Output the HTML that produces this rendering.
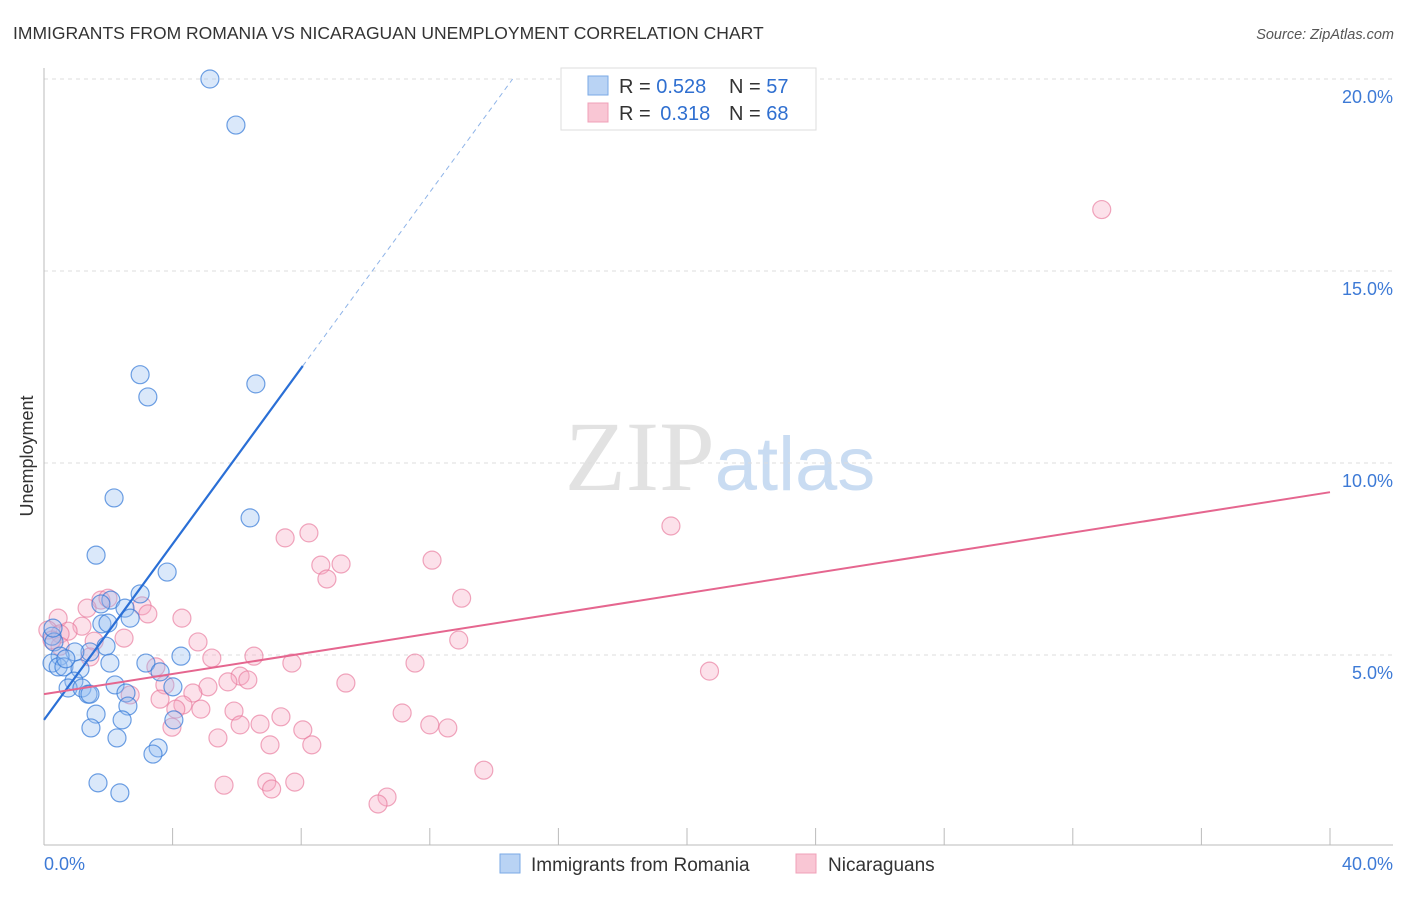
<!DOCTYPE html>
<html><head><meta charset="utf-8"><style>
body{margin:0;background:#fff;font-family:"Liberation Sans",sans-serif;}
svg text{font-family:"Liberation Sans",sans-serif;}
</style></head><body>
<svg id="chart" width="1406" height="892" xmlns="http://www.w3.org/2000/svg">
<text x="13" y="39" font-size="17.5" fill="#333">IMMIGRANTS FROM ROMANIA VS NICARAGUAN UNEMPLOYMENT CORRELATION CHART</text>
<text x="1394" y="39" font-size="14.5" fill="#555" text-anchor="end" font-style="italic">Source: ZipAtlas.com</text>
<text x="720" y="490" font-size="100" text-anchor="middle" fill="#e2e2e2"><tspan font-family="Liberation Serif">ZIP</tspan><tspan fill="#c9dcf2" font-size="76">atlas</tspan></text>
<g id="grid"></g>
<g id="axes"></g>
<g id="marks"></g>
<text transform="translate(33,456) rotate(-90)" font-size="18" fill="#333" text-anchor="middle">Unemployment</text>
<g>
<rect x="561" y="68" width="255" height="62" fill="#fff" stroke="#ddd"/>
<rect x="588" y="76" width="20" height="19" fill="#b9d3f4" stroke="#7aa9e6"/>
<rect x="588" y="103" width="20" height="19" fill="#f9c6d4" stroke="#f0a0b8"/>
<text x="619" y="93" font-size="20" fill="#333">R = <tspan fill="#2f6fd0">0.528</tspan></text>
<text x="729" y="93" font-size="20" fill="#333">N = <tspan fill="#2f6fd0">57</tspan></text>
<text x="619" y="120" font-size="20" fill="#333">R = <tspan fill="#2f6fd0" dx="4">0.318</tspan></text>
<text x="729" y="120" font-size="20" fill="#333">N = <tspan fill="#2f6fd0">68</tspan></text>
</g>
<g>
<rect x="500" y="854" width="20" height="19" fill="#b9d3f4" stroke="#7aa9e6"/>
<text x="531" y="871" font-size="19" fill="#333">Immigrants from Romania</text></g>
<g>
<rect x="796" y="854" width="20" height="19" fill="#f9c6d4" stroke="#f0a0b8"/>
<text x="828" y="871" font-size="19" fill="#333">Nicaraguans</text></g>
</svg>
<script>
const yTicks=[5,10,15,20];
const yTickLabels=["5.0%","10.0%","15.0%","20.0%"];
const blueX=[5.16,5.97,2.99,6.59,3.23,2.18,6.41,1.62,3.83,2.99,2.08,1.77,2.52,2.68,1.80,1.99,0.25,0.31,1.93,1.43,0.96,0.5,3.17,4.26,2.05,0.25,0.44,0.62,1.12,3.61,0.93,2.21,4.01,0.75,1.18,1.37,1.43,2.55,2.61,1.62,4.04,2.43,1.46,2.27,3.55,3.39,1.68,2.36,0.28,0.68];
const blueY=[20.0,18.8,12.3,12.06,11.72,9.09,8.57,7.6,7.16,6.59,6.43,6.33,6.22,5.96,5.81,5.83,5.49,5.34,5.23,5.08,5.08,4.97,4.79,4.97,4.79,4.79,4.69,4.69,4.64,4.56,4.32,4.22,4.17,4.14,4.14,3.98,3.98,4.01,3.67,3.46,3.31,3.31,3.10,2.84,2.58,2.42,1.67,1.41,5.70,4.9];
const pinkX=[32.9,19.5,8.24,7.5,12.07,8.61,9.24,8.8,12.99,1.77,1.99,3.05,1.34,3.23,4.29,0.44,1.18,0.75,0.12,0.5,2.49,1.56,12.9,4.79,0.5,1.43,6.53,5.22,7.71,11.54,3.48,20.7,6.1,6.34,5.72,9.39,3.76,5.1,4.63,2.68,3.61,4.32,4.1,4.88,5.91,11.14,7.37,6.72,6.1,12.0,12.56,8.05,3.98,5.41,7.03,8.33,13.68,5.6,6.93,7.8,7.08,10.67,10.39,0.25];
const pinkY=[16.6,8.36,8.18,8.05,7.47,7.34,7.37,6.98,6.48,6.43,6.48,6.28,6.22,6.07,5.96,5.96,5.75,5.62,5.65,5.55,5.44,5.36,5.39,5.34,5.23,4.95,4.97,4.92,4.79,4.79,4.69,4.58,4.45,4.35,4.30,4.27,4.22,4.17,4.01,3.96,3.85,3.70,3.59,3.59,3.54,3.49,3.39,3.2,3.18,3.18,3.1,3.05,3.12,2.84,2.66,2.66,2.0,1.61,1.69,1.69,1.51,1.30,1.12,5.39];
const blueTrend=[3.31,1.145];
const pinkTrend=[3.98,0.1315];
const NS="http://www.w3.org/2000/svg";
const X=v=>44+v/40*1286, Y=v=>847-v/5*192;
function mk(t,a,p){const e=document.createElementNS(NS,t);for(const k in a)e.setAttribute(k,a[k]);p.appendChild(e);return e;}
const grid=document.getElementById('grid'),axes=document.getElementById('axes'),marks=document.getElementById('marks');
yTicks.forEach((t,i)=>{
 const l=mk('line',{x1:44,x2:1393,y1:Y(t),y2:Y(t),stroke:'#ddd','stroke-dasharray':'4,4'},grid);
 
 
 const tx=mk('text',{x:1393,y:Y(t)+24,'font-size':18,fill:'#3d7ad6','text-anchor':'end'},axes);tx.textContent=yTickLabels[i];
 
 
});
const ya=mk('line',{x1:44,x2:44,y1:68,y2:845,stroke:'#bbb'},axes);


const xa=mk('line',{x1:44,x2:1393,y1:845,y2:845,stroke:'#bbb'},axes);


for(let i=0;i<=10;i++){mk('line',{x1:X(i*4),x2:X(i*4),y1:828,y2:845,stroke:'#bbb'},axes);}
let t0=mk('text',{x:44,y:870,'font-size':18,fill:'#3d7ad6'},axes);t0.textContent='0.0%';


let t1=mk('text',{x:1393,y:870,'font-size':18,fill:'#3d7ad6','text-anchor':'end'},axes);t1.textContent='40.0%';


pinkX.forEach((x,i)=>{const c=mk('circle',{cx:X(x),cy:Y(pinkY[i]),r:9,fill:'rgba(246,170,195,0.35)',stroke:'rgba(232,120,155,0.65)','stroke-width':1.2},marks);
 
 });
blueX.forEach((x,i)=>{const c=mk('circle',{cx:X(x),cy:Y(blueY[i]),r:9,fill:'rgba(150,190,240,0.35)',stroke:'rgba(50,120,215,0.7)','stroke-width':1.2},marks);
 
 });
const bEnd=8.05,bDash=(20-blueTrend[0])/blueTrend[1];
const bl=mk('line',{x1:X(0),y1:Y(blueTrend[0]),x2:X(bEnd),y2:Y(blueTrend[0]+blueTrend[1]*bEnd),stroke:'#2a6fd6','stroke-width':2.2},marks);


const bd=mk('line',{x1:X(bEnd),y1:Y(blueTrend[0]+blueTrend[1]*bEnd),x2:X(bDash),y2:Y(20),stroke:'#8fb4e8','stroke-width':1,'stroke-dasharray':'5,4'},marks);


const pl=mk('line',{x1:X(0),y1:Y(pinkTrend[0]),x2:X(40),y2:Y(pinkTrend[0]+pinkTrend[1]*40),stroke:'#e5668f','stroke-width':2},marks);


</script>
</body></html>
